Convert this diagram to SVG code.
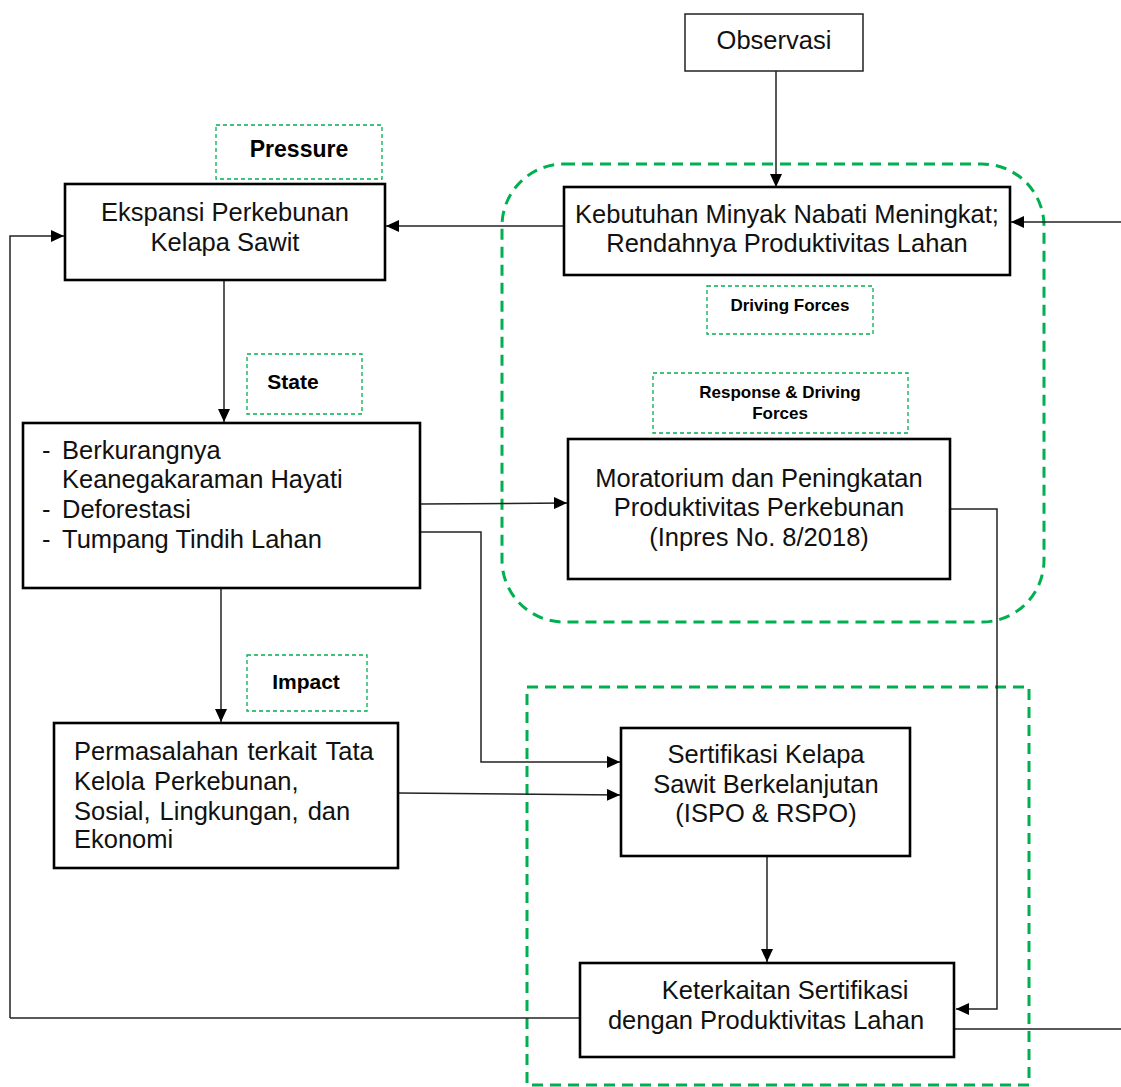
<svg xmlns="http://www.w3.org/2000/svg" width="1121" height="1087" viewBox="0 0 1121 1087">
<style>
.box{fill:#fff;stroke:#000;stroke-width:2.6}
.thin{fill:#fff;stroke:#222;stroke-width:1.5}
.t{font-family:"Liberation Sans",Arial,sans-serif;font-size:25.5px;fill:#111}
.c{text-anchor:middle}
.lbl{fill:none;stroke:#00B050;stroke-width:1.3;stroke-dasharray:4 3}
.lt{font-family:"Liberation Sans",Arial,sans-serif;font-weight:bold;fill:#000;text-anchor:middle}
.grp{fill:none;stroke:#00B050;stroke-width:3;stroke-dasharray:11 7}
.cn{fill:none;stroke:#222;stroke-width:1.5}
</style>
<defs>
<marker id="arr" markerWidth="13" markerHeight="12" viewBox="0 0 13 12" refX="13" refY="6" orient="auto" markerUnits="userSpaceOnUse"><path d="M0,0 L13,6 L0,12 z" fill="#000"/></marker>
</defs>
<rect width="1121" height="1087" fill="#fff"/>

<g id="groups">
<rect class="grp" x="502" y="164" width="542" height="458" rx="62" ry="62"/>
<rect class="grp" x="527" y="687" width="502" height="398"/>
</g>

<g id="connectors">
<path class="cn" d="M776,71 V187" marker-end="url(#arr)"/>
<path class="cn" d="M564,226 H386" marker-end="url(#arr)"/>
<path class="cn" d="M1121,222 H1011" marker-end="url(#arr)"/>
<path class="cn" d="M224,280 V422" marker-end="url(#arr)"/>
<path class="cn" d="M10,1018 V236 H64" marker-end="url(#arr)"/>
<path class="cn" d="M580,1018 H10"/>
<path class="cn" d="M420,504 L567,503" marker-end="url(#arr)"/>
<path class="cn" d="M420,532 H481 V762 H620" marker-end="url(#arr)"/>
<path class="cn" d="M950,509 H997 V1009 H956" marker-end="url(#arr)"/>
<path class="cn" d="M221,588 V722" marker-end="url(#arr)"/>
<path class="cn" d="M398,793 L620,795" marker-end="url(#arr)"/>
<path class="cn" d="M767,856 V962" marker-end="url(#arr)"/>
<path class="cn" d="M954,1029 H1121"/>
</g>

<g id="observasi">
<rect class="thin" x="685" y="14" width="178" height="57"/>
<text class="t c" x="774" y="49">Observasi</text>
</g>

<g id="label-pressure">
<rect class="lbl" x="216" y="125" width="166" height="54"/>
<text class="lt" x="299" y="157" font-size="23">Pressure</text>
</g>

<g id="ekspansi">
<rect class="box" x="65" y="184" width="320" height="96"/>
<text class="t c" x="225" y="221">Ekspansi Perkebunan</text>
<text class="t c" x="225" y="251">Kelapa Sawit</text>
</g>

<g id="kebutuhan">
<rect class="box" x="564" y="187" width="446" height="88"/>
<text class="t c" x="787" y="223">Kebutuhan Minyak Nabati Meningkat;</text>
<text class="t c" x="787" y="252">Rendahnya Produktivitas Lahan</text>
</g>

<g id="label-driving">
<rect class="lbl" x="707" y="286" width="166" height="48"/>
<text class="lt" x="790" y="311" font-size="17">Driving Forces</text>
</g>

<g id="label-state">
<rect class="lbl" x="247" y="354" width="115" height="60"/>
<text class="lt" x="293" y="389" font-size="21">State</text>
</g>

<g id="state">
<rect class="box" x="23" y="423" width="397" height="165"/>
<text class="t" x="42" y="459">-</text>
<text class="t" x="62" y="459">Berkurangnya</text>
<text class="t" x="62" y="488">Keanegakaraman Hayati</text>
<text class="t" x="42" y="518">-</text>
<text class="t" x="62" y="518">Deforestasi</text>
<text class="t" x="42" y="548">-</text>
<text class="t" x="62" y="548">Tumpang Tindih Lahan</text>
</g>

<g id="label-response">
<rect class="lbl" x="653" y="373" width="255" height="60"/>
<text class="lt" x="780" y="398" font-size="17">Response &amp; Driving</text>
<text class="lt" x="780" y="419" font-size="17">Forces</text>
</g>

<g id="moratorium">
<rect class="box" x="568" y="439" width="382" height="140"/>
<text class="t c" x="759" y="487">Moratorium dan Peningkatan</text>
<text class="t c" x="759" y="516">Produktivitas Perkebunan</text>
<text class="t c" x="759" y="546">(Inpres No. 8/2018)</text>
</g>

<g id="label-impact">
<rect class="lbl" x="247" y="655" width="120" height="56"/>
<text class="lt" x="306" y="689" font-size="21">Impact</text>
</g>

<g id="permasalahan">
<rect class="box" x="54" y="723" width="344" height="145"/>
<text class="t" x="74" y="760" word-spacing="2">Permasalahan terkait Tata</text>
<text class="t" x="74" y="790" word-spacing="2">Kelola Perkebunan,</text>
<text class="t" x="74" y="820" word-spacing="2">Sosial, Lingkungan, dan</text>
<text class="t" x="74" y="848">Ekonomi</text>
</g>

<g id="sertifikasi">
<rect class="box" x="621" y="728" width="289" height="128"/>
<text class="t c" x="766" y="763">Sertifikasi Kelapa</text>
<text class="t c" x="766" y="793">Sawit Berkelanjutan</text>
<text class="t c" x="766" y="822">(ISPO &amp; RSPO)</text>
</g>

<g id="keterkaitan">
<rect class="box" x="580" y="963" width="374" height="94"/>
<text class="t c" x="785" y="999">Keterkaitan Sertifikasi</text>
<text class="t c" x="766" y="1029">dengan Produktivitas Lahan</text>
</g>
</svg>
